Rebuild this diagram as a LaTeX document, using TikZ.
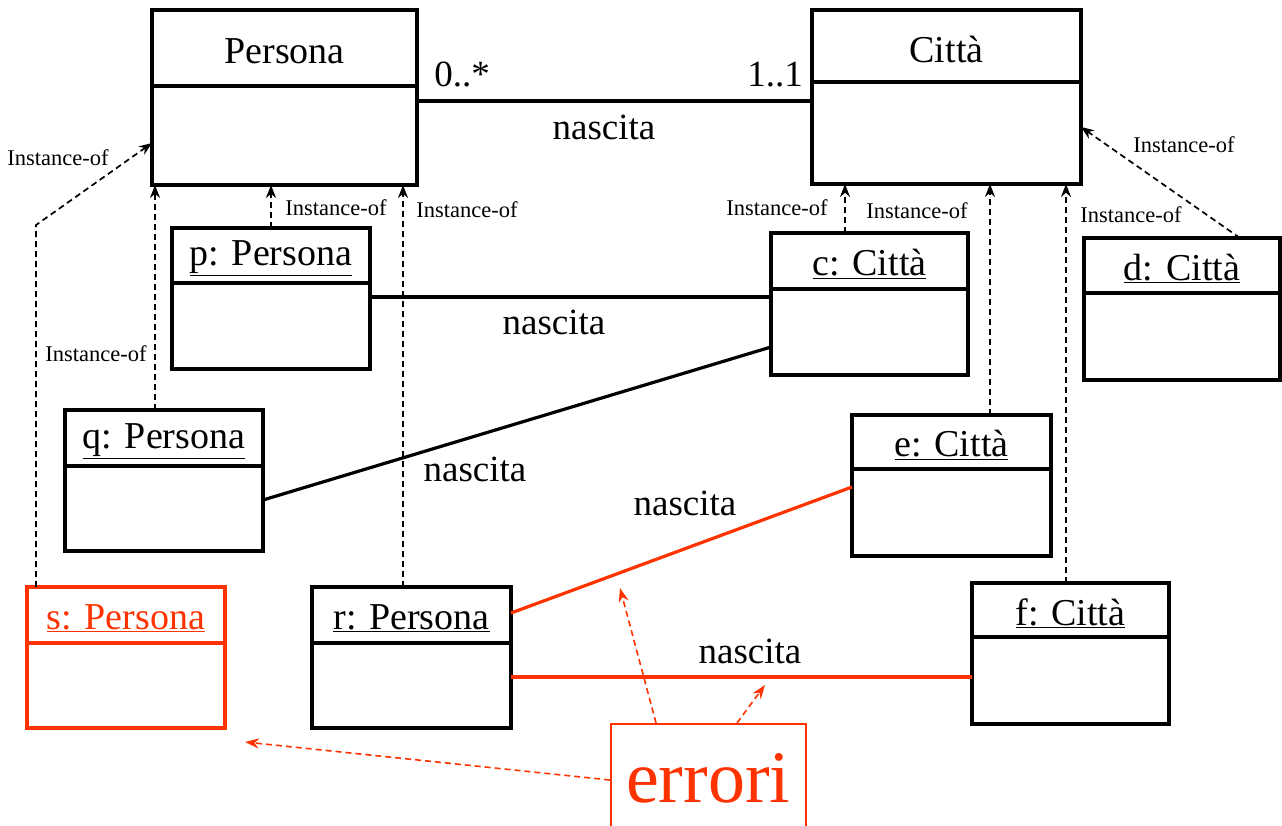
\documentclass[tikz,border=0pt]{standalone}
\usepackage{fontspec}
\setmainfont{Liberation Serif}
\usetikzlibrary{arrows.meta}
\definecolor{errred}{RGB}{255,51,0}

\tikzset{
  umlframe/.style={draw, line width=3.2pt, anchor=north west, inner sep=0pt, outer sep=0pt},
  umltitle/.style={font=\fontsize{38}{40}\selectfont, inner sep=0pt},
  assoc/.style={line width=3.2pt},
  wrong/.style={line width=3.2pt, draw=errred},
  assoclabel/.style={font=\fontsize{37}{40}\selectfont, inner sep=0pt},
  inst/.style={line width=1.7pt, dash pattern=on 6pt off 4pt, -{Stealth[length=13pt,width=10pt]}},
  instlabel/.style={font=\fontsize{22.5}{24}\selectfont, inner sep=0pt},
  errarrow/.style={draw=errred, line width=1.6pt, dash pattern=on 6pt off 4pt, -{Stealth[length=14pt,width=10pt]}},
}

% box with a title part: [colour]{name}{x}{y}{width}{height}{title height}{title}
\newcommand{\umlbox}[8][black]{%
  \node[umlframe, draw=#1, minimum width=#5pt, minimum height=#6pt] (#2) at (#3,#4) {};
  \draw[#1, line width=3.2pt] ([yshift=-#7pt]#2.north west) -- ([yshift=-#7pt]#2.north east);
  \node[umltitle, text=#1] (#2-title) at ([yshift=-#7pt/2-3pt]#2.north) {#8};
}

\begin{document}
\begin{tikzpicture}[x=1pt, y=-1pt]
  \useasboundingbox (0,0) rectangle (1282,825);

  % classes
  \umlbox{Persona}{152}{10}{265}{175}{76}{Persona}
  \umlbox{Citta}{812}{10}{269}{174}{72}{Città}

  % objects
  \umlbox{p}{172}{228}{198}{141}{55}{\underline{p: Persona}}
  \umlbox{c}{771}{233}{197}{142}{56}{\underline{c: Città}}
  \umlbox{d}{1084}{238}{196}{142}{55}{\underline{d: Città}}
  \umlbox{q}{65}{410}{198}{141}{56}{\underline{q: Persona}}
  \umlbox{e}{852}{415}{199}{141}{54}{\underline{e: Città}}
  \umlbox[errred]{s}{27}{587}{198}{141}{56}{\underline{s: Persona}}
  \umlbox{r}{312}{587}{199}{141}{56}{\underline{r: Persona}}
  \umlbox{f}{972}{583}{197}{141}{54}{\underline{f: Città}}

  % associations
  \draw[assoc] (Persona.east |- 0,101) -- (Citta.west |- 0,101);
  \node[assoclabel] (mult1) at (462,74) {0..*};
  \node[assoclabel] (mult2) at (775,75) {1..1};
  \node[assoclabel] (nasc0) at (604,127) {nascita};

  \draw[assoc] (p.east |- 0,297) -- (c.west |- 0,297);
  \node[assoclabel] (nasc1) at (554,322) {nascita};
  \draw[assoc] (q.east |- 0,500) -- (c.west |- 0,347);
  \node[assoclabel] (nasc2) at (475,469) {nascita};
  \draw[wrong] (r.east |- 0,613) -- (e.west |- 0,487);
  \node[assoclabel] (nasc3) at (685,503) {nascita};
  \draw[wrong] (r.east |- 0,677) -- (f.west |- 0,677);
  \node[assoclabel] (nasc4) at (750,651) {nascita};

  % instance-of links
  \coordinate (sbend) at (36,225);
  \draw[inst] (s.north -| sbend) -- (sbend) -- (Persona.west |- 0,143);
  \node[instlabel] (is) at (58,158) {Instance-of};
  \draw[inst] (q.north -| 155,0) -- (Persona.south -| 155,0);
  \node[instlabel] (iq) at (96,354) {Instance-of};
  \draw[inst] (p.north) -- (Persona.south -| p.north);
  \node[instlabel] (ip) at (336,208) {Instance-of};
  \draw[inst] (r.north -| 403,0) -- (Persona.south -| 403,0);
  \node[instlabel] (ir) at (467,210) {Instance-of};
  \draw[inst] (c.north -| 845,0) -- (Citta.south -| 845,0);
  \node[instlabel] (ic) at (777,208) {Instance-of};
  \draw[inst] (e.north -| 990,0) -- (Citta.south -| 990,0);
  \node[instlabel] (ie) at (917,211) {Instance-of};
  \draw[inst] (f.north -| 1066,0) -- (Citta.south -| 1066,0);
  \node[instlabel] (if) at (1131,215) {Instance-of};
  \draw[inst] (d.north -| 1240,0) -- (Citta.east |- 0,127);
  \node[instlabel] (id) at (1184,145) {Instance-of};

  % errors
  \node[draw=errred, line width=1.5pt, anchor=north west, minimum width=195pt, minimum height=110pt,
        inner sep=0pt, text=errred, font=\fontsize{74}{76}\selectfont] (errori) at (610,723) {errori};
  \coordinate (err1) at (245,742);
  \coordinate (err2) at (620,588);
  \coordinate (err3) at (765,685);
  \draw[errarrow] (errori.west |- 0,780) -- (err1);
  \draw[errarrow] (errori.north -| 656,0) -- (err2);
  \draw[errarrow] (errori.north -| 737,0) -- (err3);
\end{tikzpicture}
\end{document}
